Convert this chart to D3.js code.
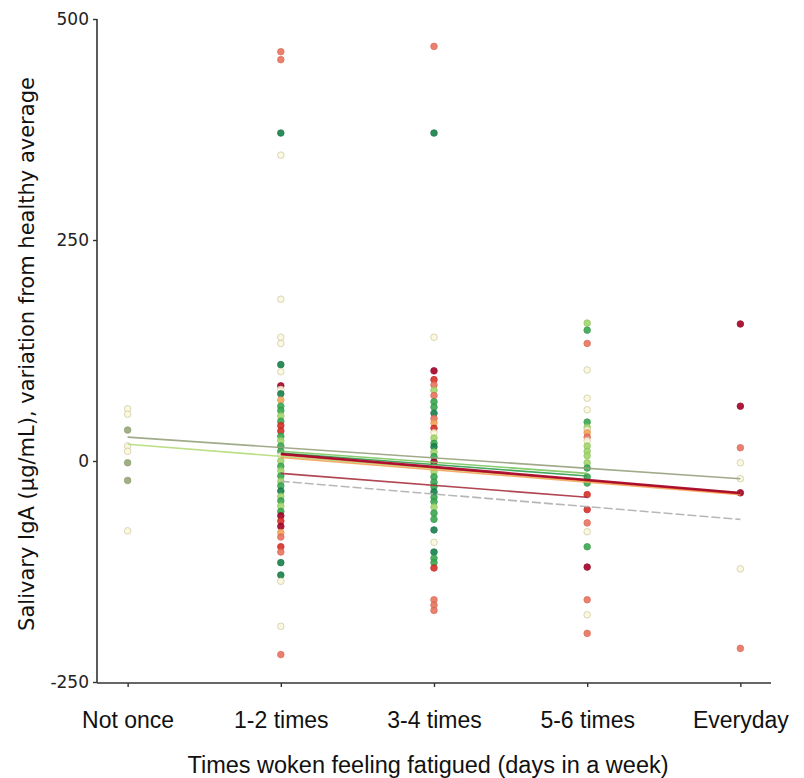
<!DOCTYPE html>
<html>
<head>
<meta charset="utf-8">
<script src="https://cdn.jsdelivr.net/npm/d3@7"></script>
<style>
  body { margin: 0; background: #fff; }
  svg { display: block; }
</style>
</head>
<body>
<div id="chart"></div>
<script>
// categories on the x axis
const categories = ["Not once", "1-2 times", "3-4 times", "5-6 times", "Everyday"];
const yTicks = [-250, 0, 250, 500];

// points per column: [value, colour group]
const notOnce = [[59, "y"], [53, "y"], [35, "ol"], [17, "y"], [11, "y"], [-2, "ol"], [-22, "ol"], [-79, "y"]];
const times12 = [
  [463, "s"], [454, "s"], [371, "dg"], [346, "y"], [183, "y"], [140, "y"], [133, "y"], [109, "dg"],
  [101, "y"], [85, "dr"], [81, "y"], [76, "dg"], [69, "o"], [62, "g"], [57, "g"], [51, "lg"],
  [45, "g"], [40, "r"], [34, "r"], [28, "g"], [23, "lg"], [17, "g"], [11, "g"], [6, "y"],
  [0, "lg"], [-6, "g"], [-11, "lg"], [-17, "g"], [-23, "lg"], [-28, "g"], [-34, "dg"], [-40, "lg"],
  [-45, "g"], [-51, "lg"], [-57, "g"], [-62, "dr"], [-68, "r"], [-74, "dr"], [-81, "o"], [-86, "s"],
  [-97, "r"], [-103, "s"], [-115, "dg"], [-129, "dg"], [-136, "y"], [-187, "y"], [-219, "s"]
];
const times34 = [
  [469, "s"], [371, "dg"], [140, "y"], [102, "dr"], [92, "r"], [86, "s"], [80, "lg"], [74, "s"],
  [67, "g"], [61, "g"], [54, "dg"], [48, "s"], [43, "o"], [37, "r"], [32, "y"], [26, "lg"],
  [20, "g"], [16, "dg"], [10, "lg"], [5, "g"], [-1, "dr"], [-7, "y"], [-12, "lg"], [-18, "g"],
  [-24, "g"], [-29, "g"], [-35, "dg"], [-41, "g"], [-46, "g"], [-52, "lg"], [-59, "g"], [-66, "g"],
  [-78, "dg"], [-92, "y"], [-103, "dg"], [-110, "g"], [-115, "g"], [-121, "r"], [-157, "s"], [-163, "s"],
  [-169, "s"]
];
const times56 = [
  [156, "lg"], [148, "g"], [133, "s"], [103, "y"], [71, "y"], [58, "y"], [44, "g"], [38, "lg"],
  [35, "y"], [32, "o"], [27, "s"], [23, "y"], [17, "lg"], [11, "lg"], [6, "lg"], [-2, "lg"],
  [-8, "g"], [-18, "g"], [-25, "g"], [-38, "r"], [-55, "r"], [-70, "s"], [-80, "y"], [-97, "g"],
  [-120, "dr"], [-157, "s"], [-174, "y"], [-195, "s"]
];
const everyday = [[155, "dr"], [62, "dr"], [15, "s"], [-2, "y"], [-20, "y"], [-36, "dr"], [-122, "y"], [-212, "s"]];
const columns = [notOnce, times12, times34, times56, everyday];

// fitted lines: group, first and last category index, value at each end
const fitLines = [
  { group: "ol", from: 0, to: 4, v0: 27, v1: -20 },
  { group: "lg", from: 0, to: 4, v0: 19, v1: -36 },
  { group: "gr", from: 1, to: 4, v0: -23, v1: -66 },
  { group: "dr2", from: 1, to: 3, v0: -14, v1: -41 },
  { group: "o", from: 1, to: 4, v0: 4, v1: -38 },
  { group: "r", from: 1, to: 4, v0: 7, v1: -37 },
  { group: "lg2", from: 1, to: 3, v0: 11, v1: -14 },
  { group: "g", from: 1, to: 3, v0: 9, v1: -17 },
  { group: "dr", from: 1, to: 4, v0: 8, v1: -36 }
];

const width = 804, height = 778;
const pointFill = {
  dr: "#a50026", r: "#d73027", s: "#e8735f", o: "#f4a55a", y: "#fbf8df",
  lg: "#a3d66c", g: "#3aa851", dg: "#17804a", ol: "#97a877"
};
const pointStroke = {
  dr: "#8c0022", r: "#c02525", s: "#d96552", o: "#e0944e", y: "#cdc79c",
  lg: "#90c25c", g: "#2f9646", dg: "#126e3f", ol: "#879866"
};
const lineColor = {
  ol: "#97a27e", lg: "#b5dc7a", gr: "#b0b0b0", dr2: "#a83240", o: "#f4a55a",
  r: "#d73027", lg2: "#7cc661", g: "#2e9e4a", dr: "#a50026"
};

const svg = d3.select("#chart")
  .append("svg")
  .attr("width", width)
  .attr("height", height);

const x = d3.scalePoint()
  .domain(categories)
  .range([97, 771])
  .padding(0.2);

const y = d3.scaleLinear()
  .domain([-250, 500])
  .range([682, 19]);

// points
columns.forEach((col, i) => {
  svg.append("g")
    .selectAll("circle")
    .data(col)
    .join("circle")
    .attr("cx", x(categories[i]))
    .attr("cy", d => y(d[0]))
    .attr("r", 3.3)
    .attr("fill", d => pointFill[d[1]])
    .attr("stroke", d => pointStroke[d[1]])
    .attr("stroke-width", 0.8)
    .attr("opacity", 0.9);
});

// fitted lines
svg.append("g")
  .selectAll("line")
  .data(fitLines)
  .join("line")
  .attr("x1", d => x(categories[d.from]))
  .attr("x2", d => x(categories[d.to]))
  .attr("y1", d => y(d.v0))
  .attr("y2", d => y(d.v1))
  .attr("stroke", d => lineColor[d.group])
  .attr("stroke-width", d => d.group === "dr" ? 2.4 : 1.6)
  .attr("stroke-dasharray", d => d.group === "gr" ? "9,3" : null)
  .attr("opacity", 0.9);

// axes
const yAxis = svg.append("g")
  .attr("transform", "translate(97,0)")
  .call(d3.axisLeft(y).tickValues(yTicks).tickFormat(d => String(d))
    .tickSize(4).tickSizeOuter(0).tickPadding(4));
yAxis.select(".domain").attr("stroke", "#333").attr("stroke-width", 1.6).attr("d", "M0,683V19");
yAxis.selectAll(".tick line").attr("stroke", "#333").attr("stroke-width", 1.4);
yAxis.selectAll("text")
  .attr("fill", "#222")
  .style("font-family", "DejaVu Sans")
  .style("font-size", "17px");

const xAxis = svg.append("g")
  .attr("transform", "translate(0,683)")
  .call(d3.axisBottom(x).tickSize(4).tickSizeOuter(0).tickPadding(25));
xAxis.select(".domain").attr("stroke", "#333").attr("stroke-width", 1.6).attr("d", "M97,0H771");
xAxis.selectAll(".tick line").attr("stroke", "#333").attr("stroke-width", 1.4);
xAxis.selectAll("text")
  .attr("fill", "#111")
  .style("font-family", "Liberation Sans")
  .style("font-size", "23px");

// titles
svg.append("text")
  .attr("transform", "translate(34,354) rotate(-90)")
  .attr("text-anchor", "middle")
  .attr("fill", "#111")
  .style("font-family", "DejaVu Sans")
  .style("font-size", "21px")
  .text("Salivary IgA (µg/mL), variation from healthy average");

svg.append("text")
  .attr("x", 428)
  .attr("y", 773)
  .attr("text-anchor", "middle")
  .attr("fill", "#111")
  .style("font-family", "Liberation Sans")
  .style("font-size", "23.5px")
  .text("Times woken feeling fatigued (days in a week)");
</script>
</body>
</html>
